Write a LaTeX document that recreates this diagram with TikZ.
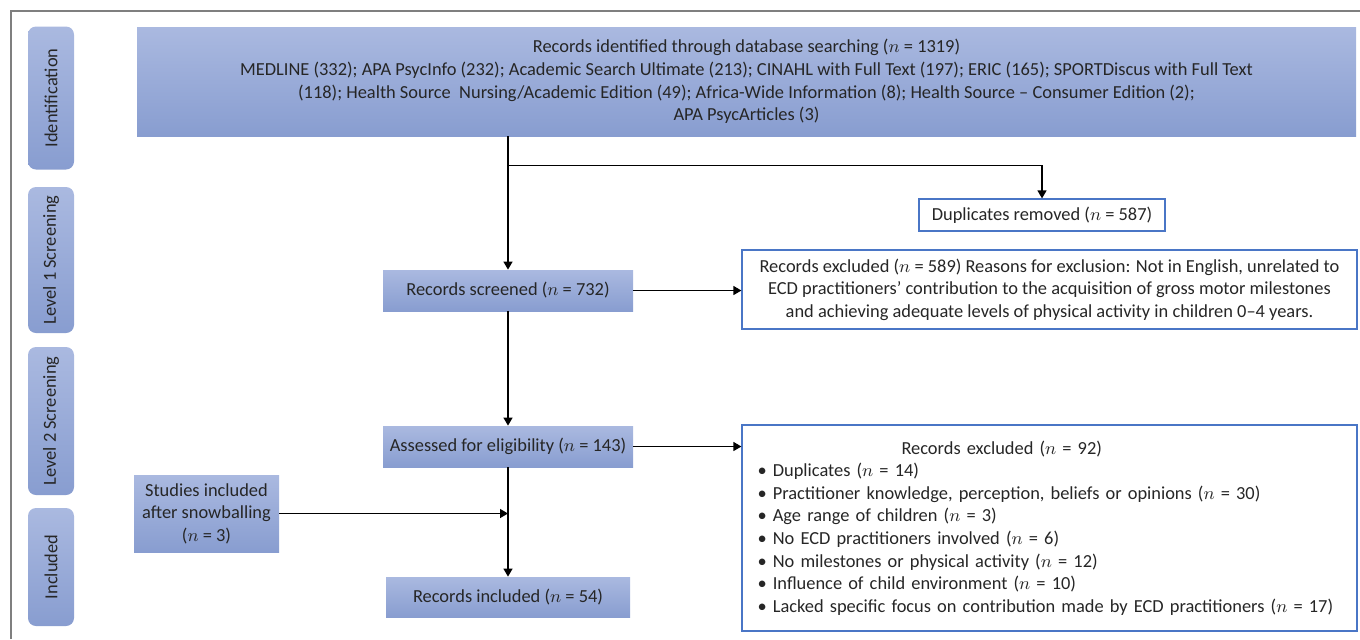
\documentclass[tikz,border=0pt]{standalone}
\usepackage{fontspec}
\setmainfont{Carlito}
\usepackage{tikz}
\usetikzlibrary{positioning,arrows.meta,calc}
\definecolor{boxTop}{HTML}{AAB9E0}
\definecolor{boxBot}{HTML}{889DD0}
\definecolor{edgeBlue}{HTML}{4A76C6}
\definecolor{frameGray}{HTML}{7F7F7F}
\definecolor{ink}{HTML}{262626}

\begin{document}
\begin{tikzpicture}[
  x=0.5pt, y=-0.5pt,
  every node/.style={font=\fontsize{9.2}{11.3}\selectfont, text=ink},
  phase/.style={rounded corners=4pt, top color=boxTop, bottom color=boxBot,
                minimum width=23pt, inner sep=0pt},
  stage/.style={top color=boxTop, bottom color=boxBot, inner sep=2pt, align=center},
  note/.style={draw=edgeBlue, fill=white, line width=0.6pt, inner sep=2pt},
  arr/.style={-{Triangle[length=4pt,width=4.5pt]}, line width=0.65pt}
]
  \useasboundingbox (0,0) rectangle (1360,639);
  % outer frame, open at right and bottom
  \draw[frameGray, line width=1pt] (11,639) -- (11,11) -- (1360,11);

  % phase labels down the left side
  \node[phase, minimum height=71.5pt, label={[rotate=90]center:Identification}] (pId) at (51,98) {};
  \node[phase, minimum height=73pt, label={[rotate=90]center:Level 1 Screening}] (pL1) at (51,260) {};
  \node[phase, minimum height=74pt, label={[rotate=90]center:Level 2 Screening}] (pL2) at (51,421) {};
  \node[phase, minimum height=59pt, label={[rotate=90]center:Included}] (pIn) at (51,567) {};

  % main column
  \node[stage, minimum width=609.5pt, minimum height=54.5pt] (ident) at (746.5,81.5) {%
    Records identified through database searching ($n$ = 1319)\\
    MEDLINE (332); APA PsycInfo (232); Academic Search Ultimate (213); CINAHL with Full Text (197); ERIC (165); SPORTDiscus with Full Text\\
    (118); Health Source\ \ Nursing/Academic Edition (49); Africa-Wide Information (8); Health Source -- Consumer Edition (2);\\
    APA PsycArticles (3)};
  \node[stage, minimum width=125pt, minimum height=20.5pt] (screen) at (508,290.5)
    {Records screened ($n$ = 732)};
  \node[stage, minimum width=125pt, minimum height=20.5pt] (assess) at (508,446.5)
    {Assessed for eligibility ($n$ = 143)};
  \node[stage, minimum width=122pt, minimum height=20pt] (incl) at (508,597)
    {Records included ($n$ = 54)};
  \node[stage, minimum width=72.5pt, minimum height=38.5pt] (snow) at (206.5,513.5)
    {Studies included\\after snowballing\\($n$ = 3)};

  % exclusion boxes on the right
  \node[note, minimum width=123pt, minimum height=16pt] (dup) at (1042,215)
    {Duplicates removed ($n$ = 587)};
  \node[note, minimum width=307.5pt, minimum height=39.5pt, align=center] (excl1) at (1049.5,289.5) {%
    Records excluded ($n$ = 589) Reasons for exclusion: Not in English, unrelated to\\
    ECD practitioners' contribution to the acquisition of gross motor milestones\\
    and achieving adequate levels of physical activity in children 0--4 years.};
  \node[note, minimum width=307.5pt, minimum height=103pt, text width=292pt,
        align=left, inner xsep=7.5pt] (excl2) at (1049.5,528) {%
    \hspace*{72pt}Records excluded ($n$ = 92)\\
    \textbullet\ Duplicates ($n$ = 14)\\
    \textbullet\ Practitioner knowledge, perception, beliefs or opinions ($n$ = 30)\\
    \textbullet\ Age range of children ($n$ = 3)\\
    \textbullet\ No ECD practitioners involved ($n$ = 6)\\
    \textbullet\ No milestones or physical activity ($n$ = 12)\\
    \textbullet\ Influence of child environment ($n$ = 10)\\
    \textbullet\ Lacked specific focus on contribution made by ECD practitioners ($n$ = 17)};

  % connectors
  \coordinate (split) at ($(screen.north |- ident.south)!0.22!(screen.north)$);
  \coordinate (merge) at (assess.south |- snow.east);
  \draw[arr] (screen.north |- ident.south) -- (screen.north);
  \draw[arr] (split) -| (dup.north);
  \draw[arr] (screen.east) -- (excl1.west |- screen.east);
  \draw[arr] (screen.south) -- (assess.north);
  \draw[arr] (assess.east) -- (excl2.west |- assess.east);
  \draw[arr] (assess.south) -- (incl.north);
  \draw[arr] (snow.east) -- (merge);
\end{tikzpicture}
\end{document}
